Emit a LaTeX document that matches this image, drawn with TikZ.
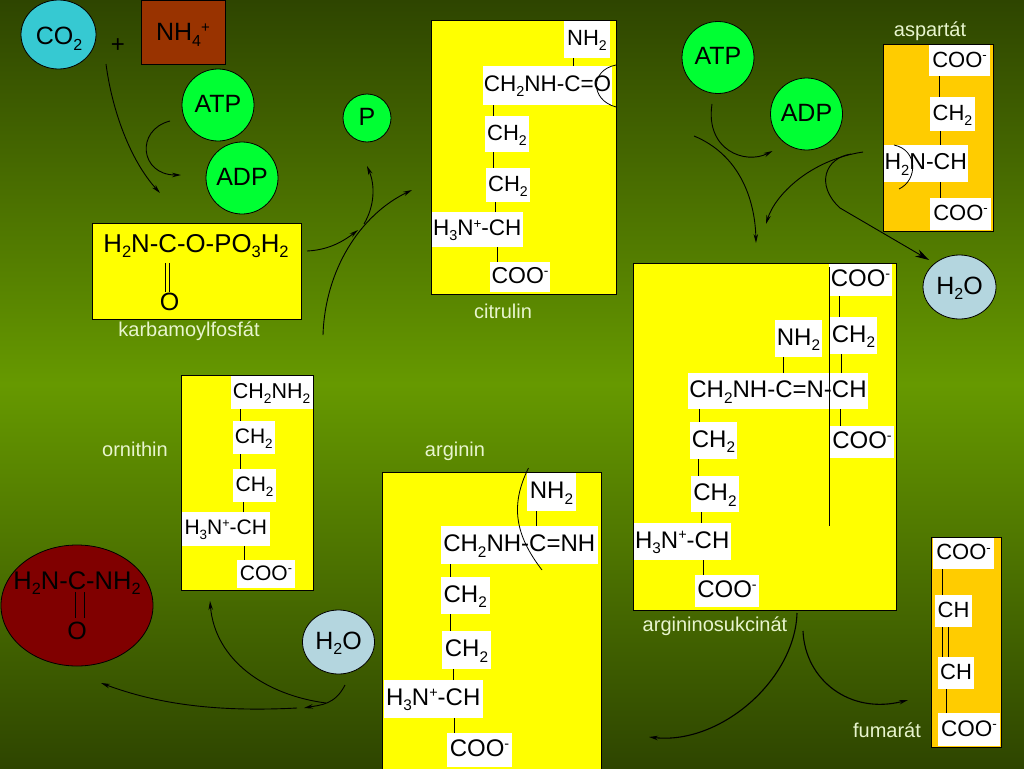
\documentclass[tikz,border=0pt]{standalone}
\usepackage{fontspec}
\usepackage{graphicx}
\setmainfont{Liberation Sans}
\usetikzlibrary{arrows.meta,shapes.geometric}
\definecolor{bgdark}{HTML}{2E4500}
\definecolor{bgmid}{HTML}{669900}
\definecolor{gold}{HTML}{FFCC00}
\definecolor{pureyellow}{HTML}{FFFF00}
\definecolor{lbl}{HTML}{E8F5CE}
\definecolor{cyanball}{HTML}{36C9D2}
\definecolor{paleball}{HTML}{B4D6DF}
\definecolor{greenball}{HTML}{00FF33}
\definecolor{rust}{HTML}{993300}
\definecolor{ureared}{HTML}{800000}
\newcommand{\sbs}[1]{\raisebox{-.22em}{\scalebox{.64}{#1}}}
\newcommand{\sps}[1]{\raisebox{.34em}{\scalebox{.6}{#1}}}
\newcommand{\fixrule}{\rule[-.2em]{0pt}{.98em}}
% white formula box: name, x1, x2, y1, y2, font size, text
\newcommand{\wbx}[7]{\node[wbox,fs=#6,minimum width=#3-#2,minimum height=#5-#4] (#1) at ({(#2+#3)/2},{(#4+#5)/2}) {#7};}
% vertical bond under node a, above node b, at abscissa x
\newcommand{\bnd}[3]{\draw[bond] (#1.south -| #3,0) -- (#2.north -| #3,0);}
\tikzset{
  fs/.style={font=\fontsize{#1}{#1}\selectfont},
  txt/.style={inner sep=0pt,execute at begin node=\fixrule},
  wbox/.style={txt,fill=white},
  panel/.style={draw=black,line width=1pt,fill=pureyellow},
  goldpanel/.style={draw=black,line width=1pt,fill=gold},
  ball/.style={draw=black,line width=.8pt,ellipse},
  bond/.style={black,line width=1pt},
  thinline/.style={black,line width=.8pt},
  arw/.style={black,line width=.9pt,-{Stealth[length=9pt,width=4.5pt]}},
  lab/.style={txt,text=lbl,fs=20},
}
\begin{document}
\begin{tikzpicture}[x=1pt,y=-1pt]
\useasboundingbox (0,0) rectangle (1024,768);
\shade[top color=bgdark,bottom color=bgdark,middle color=bgmid] (0,0) rectangle (1024,768);

% top-left reactants
\node[ball,fill=cyanball,minimum width=75,minimum height=69,inner sep=0] (co2) at (58.5,34.5) {};
\node[txt,fs=25] (co2t) at (59,38) {CO\sbs{2}};
\node[txt,fs=24] (plus) at (118,46) {+};
\node[draw=black,line width=.8pt,fill=rust,minimum width=84,minimum height=64,inner sep=0] (nh4) at (183,32) {};
\node[txt,fs=25] (nh4t) at (183,34) {NH\sbs{4}\sps{+}};
\node[ball,fill=greenball,minimum width=72,minimum height=72,inner sep=0] (atpa) at (218,105) {};
\node[txt,fs=25] at (atpa) {ATP};
\node[ball,fill=greenball,minimum width=72,minimum height=72,inner sep=0] (adpa) at (242,178) {};
\node[txt,fs=25] at (adpa) {ADP};
\node[ball,fill=greenball,minimum width=48,minimum height=48,inner sep=0] (pi) at (367,118) {};
\node[txt,fs=25] at (pi) {P};

% karbamoylfosfat
\node[panel,minimum width=209,minimum height=96,inner sep=0] (karb) at (197,271) {};
\node[txt,fs=25.8] (karbf) at (196,245) {H\sbs{2}N-C-O-PO\sbs{3}H\sbs{2}};
\node[txt,fs=25] (karbo) at (169.5,303) {O};
\draw[thinline] (165,263) -- (165,292) (169.5,263) -- (169.5,292);
\node[lab] at (189,331) {karbamoylfosfát};

% citrulin
\node[panel,minimum width=185,minimum height=273,inner sep=0] (cit) at (523.5,157.5) {};
\wbx{c1}{564}{610}{21.5}{58}{22}{NH\sbs{2}}
\wbx{c2}{483}{612}{66}{105}{22.5}{CH\sbs{2}NH-C=O}
\wbx{c3}{485}{529}{116}{152}{22}{CH\sbs{2}}
\wbx{c4}{486}{530}{168}{202}{22}{CH\sbs{2}}
\wbx{c5}{431.5}{523}{212}{247}{22.5}{H\sbs{3}N\sps{+}-CH}
\wbx{c6}{490}{550}{262}{292}{23}{COO\sps{-}}
\bnd{c1}{c2}{573}
\bnd{c2}{c3}{493}
\bnd{c3}{c4}{493}
\bnd{c4}{c5}{495}
\bnd{c5}{c6}{497}
\coordinate (cita) at (616,65); \coordinate (citb) at (616,107);
\draw[thinline] (cita) .. controls (590,70) and (590,100) .. (citb);
\node[lab] at (503,313) {citrulin};

% aspartat
\node[goldpanel,minimum width=110,minimum height=186,inner sep=0] (asp) at (938,138) {};
\wbx{a1}{929}{990}{45.5}{76}{22}{COO\sps{-}}
\wbx{a2}{930}{975}{97}{131}{22}{CH\sbs{2}}
\wbx{a3}{883.5}{968}{145}{182}{23}{H\sbs{2}N-CH}
\wbx{a4}{930}{991}{198}{230}{22}{COO\sps{-}}
\bnd{a1}{a2}{939.5}
\bnd{a2}{a3}{940.5}
\bnd{a3}{a4}{940.5}
\coordinate (aspa) at (894,145); \coordinate (aspb) at (899,189);
\draw[thinline] (aspa) .. controls (918,150) and (918,180) .. (aspb);
\node[lab] at (930,31) {aspartát};

% right ATP / ADP / water
\node[ball,fill=greenball,minimum width=72,minimum height=72,inner sep=0] (atpb) at (718,57.5) {};
\node[txt,fs=25] at (atpb) {ATP};
\node[ball,fill=greenball,minimum width=72,minimum height=72,inner sep=0] (adpb) at (806.5,114) {};
\node[txt,fs=25] at (adpb) {ADP};
\node[ball,fill=paleball,minimum width=73,minimum height=64,inner sep=0] (wat1) at (959.5,287) {};
\node[txt,fs=25] at (wat1) {H\sbs{2}O};

% argininosukcinat
\node[panel,minimum width=263,minimum height=347,inner sep=0] (ags) at (764.5,436.5) {};
\wbx{s1}{829}{892}{263.5}{296}{24}{COO\sps{-}}
\wbx{s2}{830}{877}{317}{354}{24}{CH\sbs{2}}
\wbx{s3}{775}{822}{320}{357}{24}{NH\sbs{2}}
\wbx{s4}{688}{868}{373}{409}{24}{CH\sbs{2}NH-C=N-CH}
\wbx{s5}{830}{894}{426}{458}{24}{COO\sps{-}}
\wbx{s6}{690}{737}{422}{459}{24}{CH\sbs{2}}
\wbx{s7}{691}{739}{476}{512}{24}{CH\sbs{2}}
\wbx{s8}{633.5}{731}{523}{560}{24}{H\sbs{3}N\sps{+}-CH}
\wbx{s9}{695}{759}{575}{607}{24}{COO\sps{-}}
\bnd{s1}{s2}{839}
\bnd{s2}{s4}{841}
\bnd{s4}{s5}{840}
\bnd{s3}{s4}{783}
\bnd{s4}{s6}{699}
\bnd{s6}{s7}{698}
\bnd{s7}{s8}{701}
\bnd{s8}{s9}{703}
\coordinate (cuta) at (829,267); \coordinate (cutb) at (829,526);
\draw[thinline] (cuta) -- (cutb);
\node[lab] at (715,626) {argininosukcinát};

% fumarat
\node[goldpanel,minimum width=70,minimum height=210,inner sep=0] (fum) at (966,642) {};
\wbx{f1}{933}{994}{537.5}{569}{22}{COO\sps{-}}
\wbx{f2}{935}{972}{595}{627}{22}{CH}
\wbx{f3}{938}{974}{657}{689}{22}{CH}
\wbx{f4}{938}{1000}{713}{746}{22.5}{COO\sps{-}}
\bnd{f1}{f2}{942}
\bnd{f2}{f3}{942}
\bnd{f2}{f3}{948}
\bnd{f3}{f4}{946}
\node[lab] at (887,732) {fumarát};

% ornithin
\node[panel,minimum width=132.5,minimum height=215,inner sep=0] (orn) at (247.25,482.5) {};
\wbx{o1}{230.5}{312.5}{375.5}{409}{21.5}{CH\sbs{2}NH\sbs{2}}
\wbx{o2}{232.5}{275}{421}{454}{21}{CH\sbs{2}}
\wbx{o3}{233}{276}{469}{502}{21}{CH\sbs{2}}
\wbx{o4}{181.5}{270}{512}{546}{21}{H\sbs{3}N\sps{+}-CH}
\wbx{o5}{237}{295}{560}{588}{21}{COO\sps{-}}
\bnd{o1}{o2}{240}
\bnd{o2}{o3}{240}
\bnd{o3}{o4}{243}
\bnd{o4}{o5}{244}
\node[lab] at (135,451) {ornithin};

% arginin
\node[panel,minimum width=219,minimum height=300,inner sep=0] (arg) at (491.5,622) {};
\wbx{g1}{527}{576}{473}{511}{24}{NH\sbs{2}}
\wbx{g2}{440.5}{598}{526}{564}{24}{CH\sbs{2}NH-C=NH}
\wbx{g3}{441}{489.5}{577}{614}{24}{CH\sbs{2}}
\wbx{g4}{442}{491}{631}{669}{24}{CH\sbs{2}}
\wbx{g5}{383.5}{483}{680}{718}{24}{H\sbs{3}N\sps{+}-CH}
\wbx{g6}{447}{512}{733}{767}{24}{COO\sps{-}}
\bnd{g1}{g2}{536.5}
\bnd{g2}{g3}{450}
\bnd{g3}{g4}{450}
\bnd{g4}{g5}{453}
\bnd{g5}{g6}{454}
\coordinate (arga) at (528.5,468); \coordinate (argb) at (542,570);
\draw[thinline] (arga) .. controls (510,505) and (515,535) .. (argb);
\node[lab] at (455,451) {arginin};

% urea and lower water
\node[ball,fill=ureared,minimum width=152,minimum height=121,inner sep=0] (urea) at (77,605.5) {};
\node[txt,fs=25.5] (ureaf) at (77,582) {H\sbs{2}N-C-NH\sbs{2}};
\node[txt,fs=25] (ureao) at (77,632) {O};
\draw[black,line width=1pt] (75,592) -- (75,618) (84,592) -- (84,618);
\node[ball,fill=paleball,minimum width=72,minimum height=64,inner sep=0] (wat2) at (338.5,642) {};
\node[txt,fs=25] at (wat2) {H\sbs{2}O};

% free ends of the curved arrows
\coordinate (p1a) at (106,64);  \coordinate (p1b) at (160,193);
\coordinate (p2a) at (170,121); \coordinate (p2b) at (181,175);
\coordinate (p3a) at (307,251); \coordinate (p3b) at (358,230);
\coordinate (p4a) at (364,224); \coordinate (p4b) at (367,166);
\coordinate (p5a) at (323,335); \coordinate (p5b) at (412,190);
\coordinate (q1a) at (712,104); \coordinate (q1b) at (772.5,151);
\coordinate (q2a) at (694,136); \coordinate (q2b) at (756,243);
\coordinate (q3a) at (863,152); \coordinate (q3b) at (766,224);
\coordinate (q4a) at (851,154); \coordinate (q4m) at (840,208); \coordinate (q4b) at (929,260);
\coordinate (r1a) at (797,613); \coordinate (r1b) at (649,737);
\coordinate (r2a) at (803,631); \coordinate (r2b) at (908,700);
\coordinate (t1a) at (345,685); \coordinate (t1b) at (304,708);
\coordinate (t2a) at (326,703); \coordinate (t2b) at (210,601);
\coordinate (t3a) at (297,708); \coordinate (t3b) at (101,683);

\draw[arw] (p1a) .. controls (112,110) and (130,160) .. (p1b);
\draw[arw] (p2a) .. controls (135,130) and (140,175) .. (p2b);
\draw[arw] (p3a) .. controls (330,250) and (345,240) .. (p3b);
\draw[arw] (p4a) .. controls (375,205) and (375,185) .. (p4b);
\draw[arw] (p5a) .. controls (325,270) and (360,215) .. (p5b);
\draw[arw] (q1a) .. controls (705,150) and (745,165) .. (q1b);
\draw[arw] (q2a) .. controls (740,155) and (755,200) .. (q2b);
\draw[arw] (q3a) .. controls (810,160) and (775,195) .. (q3b);
\draw[black,line width=.9pt,-{Stealth[length=14pt,width=8pt]}] (q4a) .. controls (825,158) and (815,185) .. (q4m) -- (q4b);
\draw[arw,line width=1.1pt] (r1a) .. controls (795,680) and (720,745) .. (r1b);
\draw[arw,line width=1.1pt] (r2a) .. controls (805,680) and (850,715) .. (r2b);
\draw[arw] (t1a) .. controls (335,705) and (320,705) .. (t1b);
\draw[arw] (t2a) .. controls (265,695) and (215,660) .. (t2b);
\draw[arw] (t3a) .. controls (220,712) and (160,705) .. (t3b);
\end{tikzpicture}
\end{document}
